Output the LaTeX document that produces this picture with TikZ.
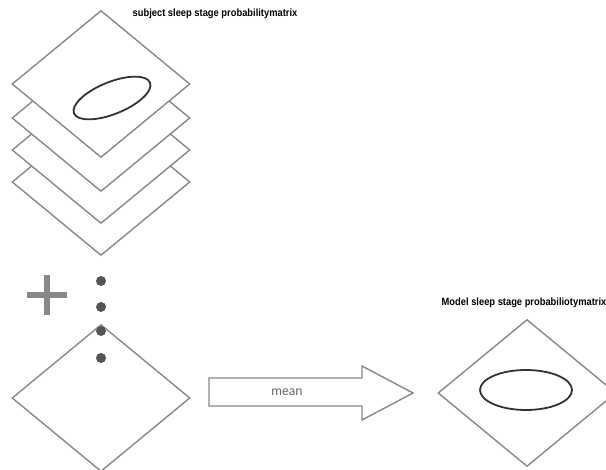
\documentclass[tikz,border=0pt]{standalone}
\usepackage{fontspec}
\setmainfont{Lato}
\newfontfamily\labelfont{Liberation Sans}
\usepackage{tikz}
\usetikzlibrary{shapes.geometric}

\definecolor{edgegray}{HTML}{888888}
\definecolor{dotgray}{HTML}{555555}
\definecolor{ovalgray}{HTML}{333333}

\tikzset{
    layer/.style={diamond, draw=edgegray, line width=1.4pt, fill=white, inner sep=0pt,
        minimum width=178pt, minimum height=147pt},
    oval/.style={draw=ovalgray, line width=1.8pt},
    stackdot/.style={circle, fill=dotgray, inner sep=0pt, minimum size=10pt},
    matrixlabel/.style={font=\labelfont\bfseries\fontsize{10.5}{11}\selectfont, inner sep=0pt}
}

\newcommand{\narrow}[1]{\scalebox{0.89}[1]{#1}}

\begin{document}
\begin{tikzpicture}[x=1pt, y=-1pt]
        \useasboundingbox (0,0) rectangle (606,470);

        % subject matrices, stacked
        \node[layer] (s4) at (101,182) {};
        \node[layer] (s3) at (101,150) {};
        \node[layer] (s2) at (101,118) {};
        \node[layer] (s1) at (101,84) {};
        \draw[oval, rotate around={22:(112,98)}] (112,98) ellipse (41pt and 16pt);
        \node[matrixlabel] (subjlabel) at (215,14) {\narrow{subject sleep stage probabilitymatrix}};

        % plus and dots
        \fill[edgegray] (27,292) rectangle (67,298);
        \fill[edgegray] (44,275) rectangle (50,315);
        \node[layer] (sn) at (101,398) {};
        \node[stackdot] (d1) at (101,281) {};
        \node[stackdot] (d2) at (101,307) {};
        \node[stackdot] (d3) at (101,331) {};
        \node[stackdot] (d4) at (101,358) {};

        % mean arrow
        \draw[edgegray, line width=1.4pt, fill=white] (209,378) -- (362,378) -- (362,366) -- (413,393)
            -- (362,420) -- (362,406) -- (209,406) -- cycle;
        \node[text=black!60, font=\fontsize{13}{15}\selectfont] (mean) at (287,392) {mean};

        % model matrix
        \node[layer] (model) at (527,393) {};
        \draw[oval] (526,390) ellipse (46pt and 20pt);
        \node[matrixlabel] (modellabel) at (524,303) {\narrow{Model sleep stage probabiliotymatrix}};
    \end{tikzpicture}
\end{document}
